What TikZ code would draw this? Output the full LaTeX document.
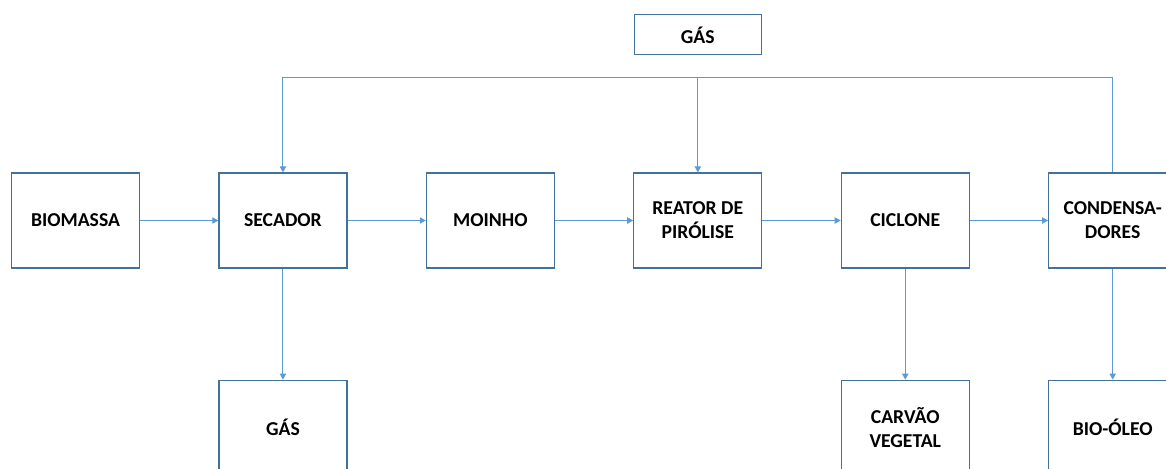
\documentclass[tikz,border=0pt]{standalone}
\usepackage{fontspec}
\setmainfont{Carlito}
\usepackage{tikz}
\usetikzlibrary{positioning,arrows.meta}

\definecolor{boxline}{HTML}{41719C}
\definecolor{flowline}{HTML}{5B9BD5}

\begin{document}
\begin{tikzpicture}[
        x=0.02cm, y=-0.02cm,
        node distance=2.22cm and 1.565cm,
        unit/.style={rectangle, draw=boxline, line width=0.7pt, fill=white, minimum width=2.56cm, minimum height=1.9cm, align=center, font=\fontsize{11.2}{13.6}\selectfont\bfseries, inner sep=0pt},
        outbox/.style={unit, minimum width=2.54cm, minimum height=0.8cm},
        flow/.style={-{Triangle[width=3.6pt,length=3.4pt]}, draw=flowline, line width=0.6pt}
      ]

      % frame of the page
      \clip (0,0) rectangle (1166,468);

      % main process row
      \node[unit] (bio) at (75.5,220.5) {BIOMASSA};
      \node[unit, right=of bio] (sec) {SECADOR};
      \node[unit, right=of sec] (moi) {MOINHO};
      \node[unit, right=of moi] (rea) {REATOR DE\\PIRÓLISE};
      \node[unit, right=of rea] (cic) {CICLONE};
      \node[unit, right=of cic] (cond) {CONDENSA-\\DORES};

      % products
      \node[unit, below=of sec] (gas) {GÁS};
      \node[unit, below=of cic] (carv) {CARVÃO\\VEGETAL};
      \node[unit, below=of cond] (oleo) {BIO-ÓLEO};

      % gas box on top
      \node[outbox, above=2.34cm of rea] (gastop) {GÁS};

      % gas return line
      \coordinate[above=1.9cm of cond.north] (ret);

      % Connections
      \draw[flow] (bio) -- (sec);
      \draw[flow] (sec) -- (moi);
      \draw[flow] (moi) -- (rea);
      \draw[flow] (rea) -- (cic);
      \draw[flow] (cic) -- (cond);
      \draw[flow] (sec) -- (gas);
      \draw[flow] (cic) -- (carv);
      \draw[flow] (cond) -- (oleo);
      \draw[flow] (cond.north) -- (ret) -| (sec.north);
      \draw[flow] (ret -| rea.north) -- (rea.north);

    \end{tikzpicture}
\end{document}
